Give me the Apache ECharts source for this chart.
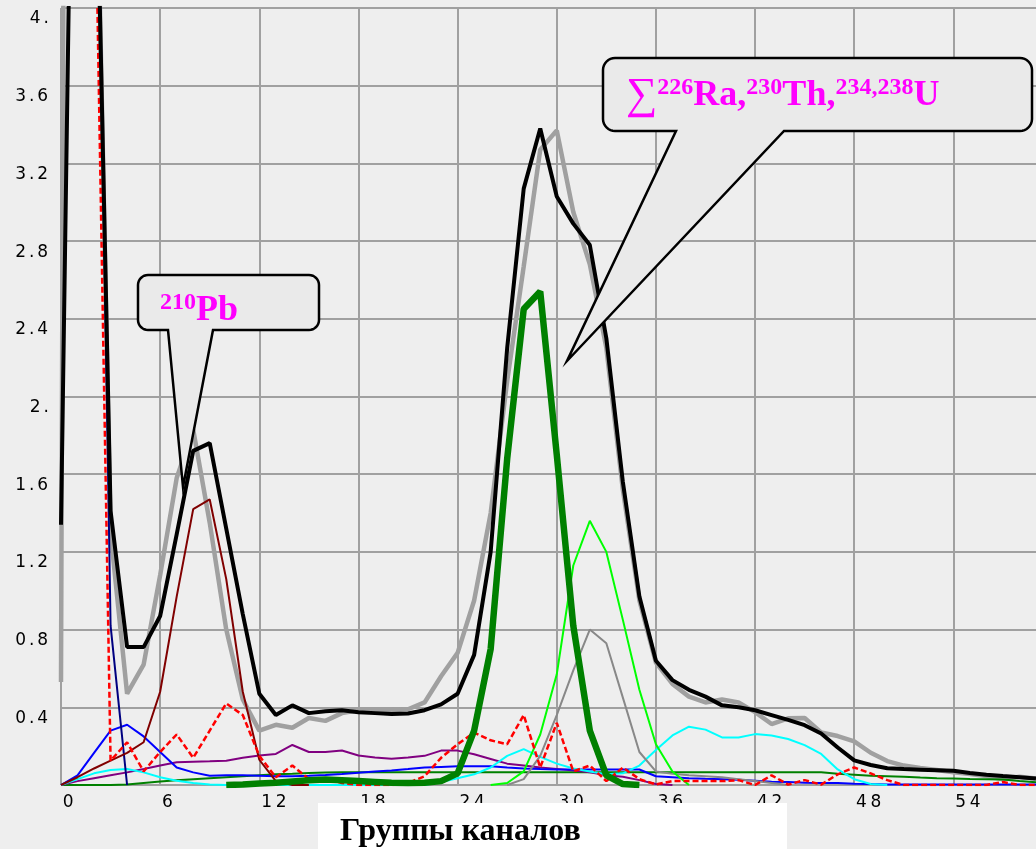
<!DOCTYPE html>
<html><head><meta charset="utf-8">
<script src="https://cdn.jsdelivr.net/npm/echarts@6/dist/echarts.min.js"></script>
<style>html,body{margin:0;padding:0;background:#eeeeee}#c{width:1036px;height:849px}</style>
</head><body><div id="c"></div>
<script>
// channel groups (x axis)
const groups = [0,1,2,3,4,5,6,7,8,9,10,11,12,13,14,15,16,17,18,19,20,21,22,23,24,25,26,27,28,29,
  30,31,32,33,34,35,36,37,38,39,40,41,42,43,44,45,46,47,48,49,50,51,52,53,54,55,56,57,58,59];
const xTicks = [0,6,12,18,24,30,36,42,48,54];
const yTicks = [0.4,0.8,1.2,1.6,2.0,2.4,2.8,3.2,3.6,4.0];

// total model (thick black)
const total = [1.34,7.1,5.4,1.41,0.71,0.71,0.87,1.29,1.72,1.76,
  1.32,0.88,0.47,0.36,0.41,0.37,0.38,0.385,0.375,0.37,
  0.365,0.368,0.385,0.415,0.47,0.67,1.2,2.25,3.07,3.38,
  3.03,2.89,2.78,2.30,1.56,0.97,0.64,0.54,0.49,0.455,
  0.41,0.40,0.385,0.36,0.335,0.308,0.265,0.193,0.127,0.103,
  0.086,0.082,0.079,0.076,0.073,0.062,0.053,0.046,0.04,0.033];
// measured spectrum (thick gray)
const measured = [0.53,25,5.5,1.3,0.47,0.62,1.08,1.58,1.83,1.35,
  0.8,0.44,0.28,0.31,0.295,0.345,0.33,0.37,0.385,0.385,
  0.385,0.39,0.425,0.56,0.68,0.95,1.4,2.08,2.67,3.27,
  3.37,2.95,2.68,2.25,1.52,0.95,0.63,0.52,0.455,0.425,
  0.44,0.425,0.375,0.314,0.343,0.345,0.27,0.252,0.225,0.166,
  0.123,0.1,0.088,0.077,0.066,0.056,0.046,0.03,0.043,0.034];
// thick dark green
const greenThick = [null,null,null,null,null,null,null,null,null,null,
  0,0.003,0.008,0.012,0.018,0.024,0.028,0.024,0.02,0.016,
  0.012,0.01,0.012,0.02,0.06,0.28,0.70,1.68,2.45,2.54,
  1.70,0.82,0.28,0.05,0.005,0,null,null,null,null,
  null,null,null,null,null,null,null,null,null,null,
  null,null,null,null,null,null,null,null,null,null];
const lime = [null,null,null,null,null,null,null,null,null,null,
  null,null,null,null,null,null,null,null,null,null,
  null,null,null,null,null,null,0,0.01,0.07,0.26,
  0.57,1.13,1.36,1.20,0.85,0.49,0.21,0.07,0,null,
  null,null,null,null,null,null,null,null,null,null,
  null,null,null,null,null,null,null,null,null,null];
const grayThin = [null,null,null,null,null,null,null,null,null,null,
  null,null,null,null,null,null,null,null,null,null,
  null,null,null,null,null,null,null,0,0.03,0.15,
  0.36,0.59,0.80,0.73,0.45,0.17,0.07,0.058,0.05,0.045,
  0.04,0.03,0.02,0.01,0,null,null,null,null,null,
  null,null,null,null,null,null,null,null,null,null];
const cyan = [0,0.03,0.06,0.077,0.082,0.065,0.04,0.022,0.01,0.003,
  0,0,0,0,0,0,0,0,0,0,
  0,0,0,0.015,0.035,0.055,0.09,0.15,0.185,0.145,
  0.11,0.085,0.07,0.055,0.06,0.1,0.18,0.255,0.30,0.285,
  0.245,0.245,0.262,0.255,0.237,0.205,0.16,0.08,0.03,0.005,
  0,null,null,null,null,null,null,null,null,null];
const redDash = [null,6.5,5.0,0.125,0.22,0.07,0.17,0.26,0.14,0.28,
  0.42,0.36,0.15,0.04,0.10,0.03,0.035,0.01,0,0,
  0,0.01,0.045,0.14,0.21,0.27,0.23,0.21,0.36,0.09,
  0.32,0.07,0.10,0.02,0.09,0.03,0.003,0.02,0.02,0.02,
  0.02,0.025,0,0.05,0.002,0.025,0.002,0.055,0.09,0.06,
  0.025,0,0,0,0,0,0,0.015,0,0];
const navy = [null,8,6,0.82,0,null,null,null,null,null,
  null,null,null,null,null,null,null,null,null,null,
  null,null,null,null,null,null,null,null,null,null,
  null,null,null,null,null,null,null,null,null,null,
  null,null,null,null,null,null,null,null,null,null,
  null,null,null,null,null,null,null,null,null,null];
const darkRed = [0,0.04,0.085,0.125,0.165,0.22,0.48,0.97,1.42,1.47,
  1.06,0.48,0.13,0.02,0,0,null,null,null,null,
  null,null,null,null,null,null,null,null,null,null,
  null,null,null,null,null,null,null,null,null,null,
  null,null,null,null,null,null,null,null,null,null,
  null,null,null,null,null,null,null,null,null,null];
const blue = [0,0.05,0.165,0.28,0.31,0.25,0.17,0.09,0.065,0.048,
  0.05,0.05,0.048,0.045,0.045,0.048,0.052,0.057,0.063,0.069,
  0.075,0.082,0.09,0.093,0.096,0.096,0.096,0.09,0.085,0.082,
  0.08,0.08,0.08,0.08,0.08,0.08,0.045,0.04,0.035,0.032,
  0.03,0.027,0.022,0.017,0.015,0.012,0.01,0.01,0.007,0.005,
  0.003,0.003,0.003,0.003,0.003,0.003,0.003,0.003,0.003,0.003];
const purple = [0,0.02,0.035,0.05,0.065,0.082,0.1,0.117,0.12,0.122,
  0.125,0.14,0.152,0.16,0.206,0.17,0.17,0.178,0.152,0.142,
  0.135,0.142,0.15,0.177,0.177,0.158,0.134,0.11,0.1,0.09,
  0.083,0.075,0.065,0.05,0.042,0.025,0.005,0,null,null,
  null,null,null,null,null,null,null,null,null,null,
  null,null,null,null,null,null,null,null,null,null];
const greenThin = [0,0,0,0,0.002,0.01,0.018,0.025,0.03,0.035,
  0.04,0.045,0.05,0.055,0.058,0.062,0.064,0.065,0.066,0.066,
  0.066,0.066,0.066,0.066,0.066,0.066,0.066,0.066,0.066,0.066,
  0.066,0.066,0.066,0.066,0.066,0.066,0.066,0.066,0.066,0.066,
  0.066,0.066,0.066,0.066,0.066,0.066,0.066,0.058,0.053,0.048,
  0.045,0.042,0.038,0.035,0.033,0.031,0.03,0.028,0.02,0.014];

const xTitle = 'Группы каналов';

const chart = echarts.init(document.getElementById('c'), null, {renderer: 'canvas'});
function pairs(arr) { return groups.map((g, i) => [g, arr[i]]); }
function spread(s) {
  return s.split('').map(c => c === '.' ? '{d|.}' : '{n|' + c + '}').join('');
}
function fmtY(v) {
  if (Math.abs(v) < 1e-9) return '';
  const r = Math.round(v);
  const s = Math.abs(v - r) < 1e-6 ? r + '.' : v.toFixed(1);
  return spread(s);
}
function fmtX(v) {
  const r = Math.round(v);
  if (Math.abs(v - r) > 1e-6 || xTicks.indexOf(r) < 0) return '';
  return spread(String(r));
}
const labelRich = {
  n: {width: 14.5, align: 'center', fontFamily: 'DejaVu Sans', fontSize: 17, lineHeight: 16, color: '#000'},
  d: {width: 7.5, align: 'center', fontFamily: 'DejaVu Sans', fontSize: 17, lineHeight: 16, color: '#000'}
};
function line(arr, color, width, extra) {
  return Object.assign({
    type: 'line', data: pairs(arr), symbol: 'none', showSymbol: false,
    lineStyle: {color: color, width: width}, itemStyle: {color: color},
    connectNulls: false, silent: true, animation: false, clip: true
  }, extra || {});
}
// rounded box with a pointer on its bottom edge, as a polygon outline
function calloutPoints(x0, y0, x1, y1, r, b1, b2, tip) {
  const pts = [];
  function arc(cx, cy, a0, a1) {
    for (let k = 0; k <= 8; k++) {
      const a = a0 + (a1 - a0) * k / 8;
      pts.push([cx + r * Math.cos(a), cy + r * Math.sin(a)]);
    }
  }
  arc(x0 + r, y0 + r, Math.PI, 1.5 * Math.PI);
  arc(x1 - r, y0 + r, 1.5 * Math.PI, 2 * Math.PI);
  arc(x1 - r, y1 - r, 0, 0.5 * Math.PI);
  pts.push([b2, y1]); pts.push(tip); pts.push([b1, y1]);
  arc(x0 + r, y1 - r, 0.5 * Math.PI, Math.PI);
  return pts;
}
const magenta = '#ff00ff';
const serif = "'Liberation Serif', 'DejaVu Serif', serif";
const calloutRich = {
  b: {fontFamily: serif, fontWeight: 'bold', fontSize: 36, lineHeight: 40, fill: magenta},
  g: {fontFamily: serif, fontWeight: 'normal', fontSize: 44, lineHeight: 40, fill: magenta},
  s: {fontFamily: serif, fontWeight: 'bold', fontSize: 24, lineHeight: 24, verticalAlign: 'top', fill: magenta}
};

const option = {
  backgroundColor: '#eeeeee',
  animation: false,
  grid: {left: 61, right: 0, top: 8, bottom: 64, show: false},
  xAxis: {
    type: 'value', min: 0, max: 59, interval: 6,
    axisLine: {show: false}, axisTick: {show: false},
    splitLine: {show: true, showMaxLine: false, lineStyle: {color: '#a0a0a0', width: 2}},
    axisLabel: {show: true, align: 'left', margin: 10, verticalAlign: 'top', showMaxLabel: false,
      formatter: fmtX, rich: labelRich}
  },
  yAxis: {
    type: 'value', min: 0, max: 4, interval: 0.4,
    axisLine: {show: false}, axisTick: {show: false},
    splitLine: {show: true, lineStyle: {color: '#a0a0a0', width: 2}},
    axisLabel: {show: true, align: 'right', margin: 11, verticalAlign: 'top', padding: [3, 0, 0, 0],
      formatter: fmtY, rich: labelRich}
  },
  series: [
    line(measured, '#a0a0a0', 4.5),
    line(greenThin, '#008000', 2),
    line(purple, '#800080', 2),
    line(blue, '#0000ff', 2),
    line(cyan, '#00ffff', 2),
    line(navy, '#000080', 2),
    line(darkRed, '#800000', 2),
    line(grayThin, '#888888', 2),
    line(lime, '#00ff00', 2),
    line(redDash, '#ff0000', 2.5, {lineStyle: {color: '#ff0000', width: 2.5, type: [6, 3]}}),
    line(greenThick, '#008000', 6.5),
    line(total, '#000000', 4)
  ],
  graphic: [
    {type: 'polygon', z: 100, shape: {points: calloutPoints(138, 275, 319, 330, 10, 168, 213, [183, 487])},
      style: {fill: '#eaeaea', stroke: '#000', lineWidth: 2.5, lineJoin: 'miter'}},
    {type: 'text', z: 101, x: 160, y: 291,
      style: {text: '{s|210}{b|Pb}', rich: calloutRich, align: 'left', verticalAlign: 'top'}},
    {type: 'polygon', z: 100, shape: {points: calloutPoints(603, 58, 1032, 131, 12, 676, 784, [567, 361])},
      style: {fill: '#eaeaea', stroke: '#000', lineWidth: 2.5, lineJoin: 'miter'}},
    {type: 'text', z: 101, x: 626, y: 76,
      style: {text: '{g|∑}{s|226}{b|Ra,}{s|230}{b|Th,}{s|234,238}{b|U}', rich: calloutRich, align: 'left', verticalAlign: 'top'}},
    {type: 'rect', z: 100, shape: {x: 318, y: 803, width: 469, height: 46}, style: {fill: '#ffffff'}},
    {type: 'text', z: 101, x: 340, y: 832,
      style: {text: xTitle, fontFamily: serif, fontWeight: 'bold', fontSize: 32, fill: '#000', align: 'left', verticalAlign: 'middle'}}
  ]
};
chart.setOption(option);
</script>
</body></html>
